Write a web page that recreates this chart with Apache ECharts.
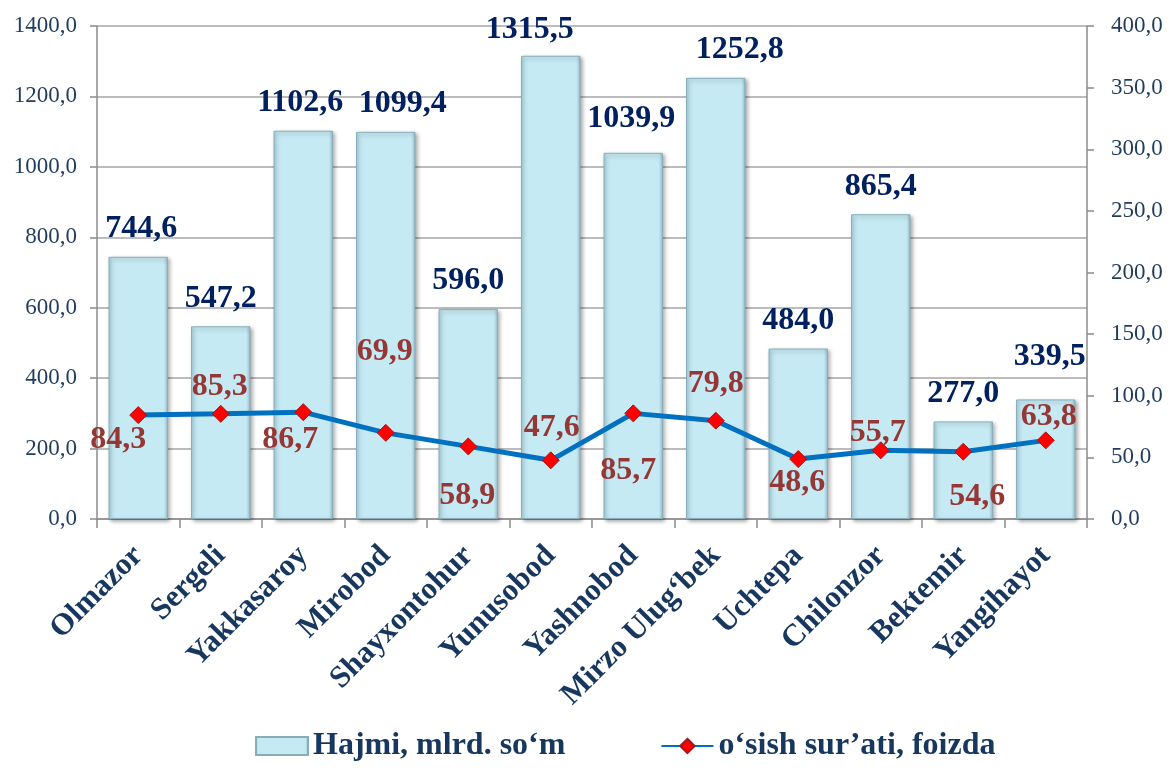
<!DOCTYPE html>
<html>
<head>
<meta charset="utf-8">
<script src="https://cdn.jsdelivr.net/npm/echarts@6/dist/echarts.min.js"></script>
<style>
  html, body { margin: 0; padding: 0; background: #fff; }
  #mainChart { width: 1173px; height: 771px; }
</style>
</head>
<body>
<div id="mainChart"></div>
<script>
// data
var districts = ['Olmazor', 'Sergeli', 'Yakkasaroy', 'Mirobod', 'Shayxontohur', 'Yunusobod',
                 'Yashnobod', 'Mirzo Ulug‘bek', 'Uchtepa', 'Chilonzor', 'Bektemir', 'Yangihayot'];
var volume = [744.6, 547.2, 1102.6, 1099.4, 596.0, 1315.5, 1039.9, 1252.8, 484.0, 865.4, 277.0, 339.5];
var growth = [84.3, 85.3, 86.7, 69.9, 58.9, 47.6, 85.7, 79.8, 48.6, 55.7, 54.6, 63.8];
var volumeName = 'Hajmi, mlrd. so‘m';
var growthName = 'o‘sish sur’ati, foizda';

// label nudges (px), as the labels were placed by hand in the original
var volumeLabelOffset = [[3, 0], [0, 0], [-3, 0], [17, 0], [0, 0], [-21, 2],
                         [-2, -6], [24, 0], [0, 0], [0, 0], [0, 0], [4, -15]];
var growthLabelOffset = [[-20, 25], [-1, -27], [-13, 28], [-1, -81], [-1, 49], [1, -33],
                         [-5, 57], [0, -37], [-1, 24], [-3, -18], [14, 45], [3, -24]];

var serif = "'Liberation Serif', 'Times New Roman', serif";
function fmt(v) { return v.toFixed(1).replace('.', ','); }

var myChart = echarts.init(document.getElementById('mainChart'), null, { renderer: 'canvas' });

var barColor = new echarts.graphic.LinearGradient(0, 0, 1, 0, [
    { offset: 0, color: '#A3CFDB' },
    { offset: 0.07, color: '#C6EAF4' },
    { offset: 0.93, color: '#C6EAF4' },
    { offset: 1, color: '#97C2CE' }
]);

var option = {
    animation: false,
    textStyle: { fontFamily: serif },
    grid: { left: 97, right: 86, top: 26, bottom: 252 },
    legend: {
        bottom: 4,
        left: 250,
        itemGap: 95,
        itemWidth: 52,
        itemHeight: 18,
        textStyle: { fontFamily: serif, fontSize: 32, fontWeight: 'bold', color: '#17375E' },
        data: [
            { name: volumeName, icon: 'rect' },
            { name: growthName }
        ]
    },
    xAxis: {
        type: 'category',
        data: districts,
        axisLine: { lineStyle: { color: '#8C8C8C', width: 1.5 } },
        axisTick: { show: true, length: 9, lineStyle: { color: '#8C8C8C', width: 1.5 } },
        axisLabel: {
            rotate: 45,
            interval: 0,
            margin: 32,
            fontFamily: serif,
            fontSize: 31,
            fontWeight: 'bold',
            color: '#17375E'
        }
    },
    yAxis: [
        {
            type: 'value',
            min: 0, max: 1400, interval: 200,
            axisLine: { show: true, lineStyle: { color: '#8C8C8C', width: 1.5 } },
            axisTick: { show: true, length: 7, lineStyle: { color: '#8C8C8C', width: 1.5 } },
            axisLabel: { formatter: fmt, fontFamily: serif, fontSize: 23, color: '#1F3B5E', margin: 20 },
            splitLine: { lineStyle: { color: '#A6A6A6', width: 1.5 } }
        },
        {
            type: 'value',
            min: 0, max: 400, interval: 50,
            axisLine: { show: true, lineStyle: { color: '#8C8C8C', width: 1.5 } },
            axisTick: { show: true, length: 7, lineStyle: { color: '#8C8C8C', width: 1.5 } },
            axisLabel: { formatter: fmt, fontFamily: serif, fontSize: 23, color: '#1F3B5E', margin: 24 },
            splitLine: { show: false }
        }
    ],
    series: [
        {
            name: volumeName,
            type: 'bar',
            barCategoryGap: '28%',
            data: volume.map(function (v, i) {
                return { value: v, label: { offset: volumeLabelOffset[i] } };
            }),
            itemStyle: {
                color: barColor,
                borderColor: '#86AEBA',
                borderWidth: 1,
                shadowColor: 'rgba(0,0,0,0.35)',
                shadowBlur: 4,
                shadowOffsetX: 2,
                shadowOffsetY: 2
            },
            label: {
                show: true,
                position: 'top',
                distance: 12,
                formatter: function (p) { return fmt(p.value); },
                fontFamily: serif,
                fontSize: 32,
                fontWeight: 'bold',
                color: '#002060'
            }
        },
        {
            name: growthName,
            type: 'line',
            yAxisIndex: 1,
            symbol: 'diamond',
            symbolSize: 17,
            itemStyle: { color: '#FF0000', borderColor: '#A01818', borderWidth: 1 },
            lineStyle: { color: '#0070C0', width: 5 },
            z: 5,
            data: growth.map(function (v, i) {
                return {
                    value: v,
                    label: { position: 'inside', offset: growthLabelOffset[i] }
                };
            }),
            label: {
                show: true,
                formatter: function (p) { return fmt(p.value); },
                fontFamily: serif,
                fontSize: 32,
                fontWeight: 'bold',
                color: '#953735'
            }
        }
    ]
};

myChart.setOption(option);
</script>
</body>
</html>
